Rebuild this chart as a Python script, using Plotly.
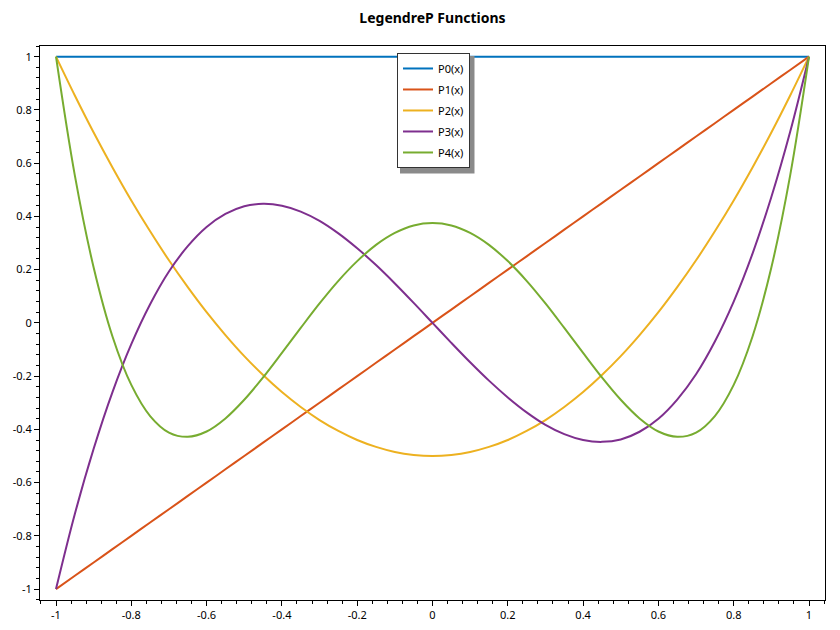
import plotly.graph_objects as go

# x grid and values (step 0.05)
x = [-1.0, -0.95, -0.9, -0.85, -0.8, -0.75, -0.7, -0.65, -0.6, -0.55, -0.5,
     -0.45, -0.4, -0.35, -0.3, -0.25, -0.2, -0.15, -0.1, -0.05, 0.0,
     0.05, 0.1, 0.15, 0.2, 0.25, 0.3, 0.35, 0.4, 0.45, 0.5,
     0.55, 0.6, 0.65, 0.7, 0.75, 0.8, 0.85, 0.9, 0.95, 1.0]

p0 = [1.0] * 41
p1 = [-1.0, -0.95, -0.9, -0.85, -0.8, -0.75, -0.7, -0.65, -0.6, -0.55, -0.5,
      -0.45, -0.4, -0.35, -0.3, -0.25, -0.2, -0.15, -0.1, -0.05, 0.0,
      0.05, 0.1, 0.15, 0.2, 0.25, 0.3, 0.35, 0.4, 0.45, 0.5,
      0.55, 0.6, 0.65, 0.7, 0.75, 0.8, 0.85, 0.9, 0.95, 1.0]
p2 = [1.0, 0.854, 0.715, 0.584, 0.46, 0.344, 0.235, 0.134, 0.04, -0.046, -0.125,
      -0.196, -0.26, -0.316, -0.365, -0.406, -0.44, -0.466, -0.485, -0.496, -0.5,
      -0.496, -0.485, -0.466, -0.44, -0.406, -0.365, -0.316, -0.26, -0.196, -0.125,
      -0.046, 0.04, 0.134, 0.235, 0.344, 0.46, 0.584, 0.715, 0.854, 1.0]
p3 = [-1.0, -0.718, -0.473, -0.26, -0.08, 0.070, 0.193, 0.288, 0.36, 0.409, 0.438,
      0.447, 0.44, 0.418, 0.383, 0.336, 0.28, 0.217, 0.148, 0.075, 0.0,
      -0.075, -0.148, -0.217, -0.28, -0.336, -0.383, -0.418, -0.44, -0.447, -0.438,
      -0.409, -0.36, -0.288, -0.193, -0.070, 0.08, 0.26, 0.473, 0.718, 1.0]
p4 = [1.0, 0.554, 0.208, -0.051, -0.233, -0.350, -0.412, -0.428, -0.408, -0.359, -0.289,
      -0.205, -0.113, -0.019, 0.073, 0.158, 0.232, 0.293, 0.338, 0.366, 0.375,
      0.366, 0.338, 0.293, 0.232, 0.158, 0.073, -0.019, -0.113, -0.205, -0.289,
      -0.359, -0.408, -0.428, -0.412, -0.350, -0.233, -0.051, 0.208, 0.554, 1.0]

names = ['P0(x)', 'P1(x)', 'P2(x)', 'P3(x)', 'P4(x)']
colors = ['#0072BD', '#D95319', '#EDB120', '#7E2F8E', '#77AC30']
ticks = [-1, -0.8, -0.6, -0.4, -0.2, 0, 0.2, 0.4, 0.6, 0.8, 1]
tick_labels = ['-1', '-0.8', '-0.6', '-0.4', '-0.2', '0', '0.2', '0.4', '0.6', '0.8', '1']

fig = go.Figure()
for name, ys, c in zip(names, [p0, p1, p2, p3, p4], colors):
    fig.add_trace(go.Scatter(x=x, y=ys, mode='lines', name=name, legendgroup=name,
                             line=dict(color=c, width=2, shape='spline')))

axis_style = dict(showline=True, mirror=True, linecolor='black', linewidth=1,
                  ticks='outside', ticklen=5, tickcolor='black', showgrid=False,
                  zeroline=False, tickvals=ticks, ticktext=tick_labels, automargin=False,
                  minor=dict(ticks='outside', ticklen=3, dtick=0.04, tickcolor='black'),
                  tickfont=dict(size=11, color='black'))

# the page body has an 8px margin, so the figure is a bit smaller than the window
fig.update_layout(
    width=832, height=622,
    margin=dict(l=32, r=15, t=38, b=30),
    paper_bgcolor='white', plot_bgcolor='white',
    font=dict(family='Noto Sans, Open Sans, sans-serif', color='black'),
    title=dict(text='<b>LegendreP Functions</b>', x=0.5, xref='paper',
               yref='container', y=1 - 10 / 622, yanchor='middle', font=dict(size=14)),
    xaxis=dict(range=[-1.0425, 1.0425], **axis_style),
    yaxis=dict(range=[-1.041, 1.04], **axis_style),
    legend=dict(x=0.4548, y=0.9874, xanchor='left', yanchor='top',
                bgcolor='white', bordercolor='#333333', borderwidth=1,
                font=dict(size=11), itemwidth=30, tracegroupgap=2),
    showlegend=True,
)

# drop shadow behind the legend box
fig.add_shape(type='rect', xref='paper', yref='paper',
              x0=0.4586, x1=0.5535, y0=0.770, y1=0.982,
              fillcolor='#8a8a8a', line=dict(width=0), layer='above')

fig.write_html("out.html")
